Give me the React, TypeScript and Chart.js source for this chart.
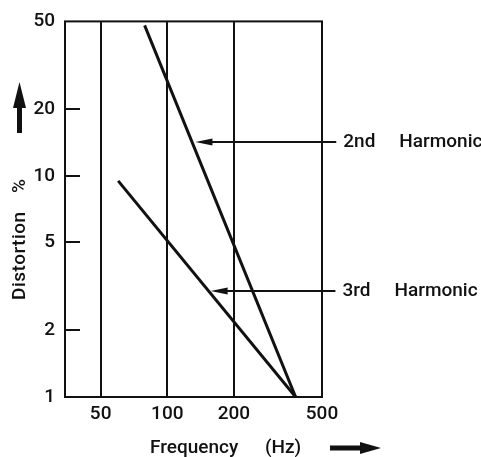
import { useEffect, useRef } from 'react';
import { Chart, registerables } from 'chart.js';

Chart.register(...registerables);

const xTicks = [50, 100, 200, 500];
const yTicks = [1, 2, 5, 10, 20, 50];
const xGridValues = [50, 100, 200];
const yInnerTicks = [2, 5, 10, 20];
const secondFreq = [79, 380];
const secondDist = [48, 1];
const thirdFreq = [60, 380];
const thirdDist = [9.5, 1];
const calloutLabels = ['2nd', '3rd'];
const calloutLevel = [14.3, 3.03];
const calloutTip = [134, 157];
const calloutTail = [580, 575];

const INK = '#111111';
const FONT = 'Roboto, "Liberation Sans", Arial, sans-serif';

const decorPlugin = {
  id: 'decor',
  beforeDatasetsDraw(chart: any) {
    const { ctx, chartArea } = chart;
    const xs = chart.scales.x;
    const ys = chart.scales.y;
    ctx.save();
    ctx.strokeStyle = INK;
    ctx.lineWidth = 2;
    xGridValues.forEach((v) => {
      const px = Math.round(xs.getPixelForValue(v));
      ctx.beginPath();
      ctx.moveTo(px, chartArea.top);
      ctx.lineTo(px, chartArea.bottom);
      ctx.stroke();
    });
    yInnerTicks.forEach((v) => {
      const py = Math.round(ys.getPixelForValue(v));
      ctx.beginPath();
      ctx.moveTo(chartArea.left, py);
      ctx.lineTo(chartArea.left + 15, py);
      ctx.stroke();
    });
    ctx.strokeRect(chartArea.left, chartArea.top, chartArea.right - chartArea.left, chartArea.bottom - chartArea.top);
    ctx.restore();
  },
  afterDraw(chart: any) {
    const { ctx } = chart;
    const xs = chart.scales.x;
    const ys = chart.scales.y;
    ctx.save();
    ctx.fillStyle = INK;
    ctx.strokeStyle = INK;
    ctx.font = `500 19px ${FONT}`;
    calloutLabels.forEach((label, i) => {
      const py = Math.round(ys.getPixelForValue(calloutLevel[i]));
      const tip = xs.getPixelForValue(calloutTip[i]);
      const tail = xs.getPixelForValue(calloutTail[i]);
      ctx.lineWidth = 2;
      ctx.beginPath();
      ctx.moveTo(tip + 10, py);
      ctx.lineTo(tail, py);
      ctx.stroke();
      ctx.beginPath();
      ctx.moveTo(tip, py);
      ctx.lineTo(tip + 17, py - 3.5);
      ctx.lineTo(tip + 17, py + 3.5);
      ctx.closePath();
      ctx.fill();
      ctx.textAlign = 'left';
      ctx.textBaseline = 'middle';
      const tx = tail + 7;
      ctx.fillText(label, tx, py);
      const w = ctx.measureText(label).width;
      ctx.fillText('Harmonic', tx + w + 24, py);
    });
    ctx.textBaseline = 'alphabetic';
    ctx.textAlign = 'left';
    ctx.fillText('Frequency', 150, 453);
    ctx.fillText('(Hz)', 265, 453);
    ctx.fillRect(330, 445.5, 32, 5);
    ctx.beginPath();
    ctx.moveTo(360, 442);
    ctx.lineTo(381, 448);
    ctx.lineTo(360, 454);
    ctx.closePath();
    ctx.fill();
    ctx.save();
    ctx.translate(25, 300);
    ctx.rotate(-Math.PI / 2);
    (ctx as any).letterSpacing = '0.5px';
    ctx.fillText('Distortion', 0, 0);
    ctx.fillText('%', 107, 0);
    ctx.restore();
    ctx.fillRect(17, 105, 5, 28);
    ctx.beginPath();
    ctx.moveTo(19.5, 82);
    ctx.lineTo(26, 108);
    ctx.lineTo(13, 108);
    ctx.closePath();
    ctx.fill();
    ctx.restore();
  },
};

export default function App() {
  const canvasRef = useRef<HTMLCanvasElement | null>(null);

  useEffect(() => {
    const canvas = canvasRef.current;
    if (!canvas) return;
    const chart = new Chart(canvas, {
      type: 'scatter',
      data: {
        datasets: [
          {
            label: '2nd Harmonic',
            data: secondFreq.map((f, i) => ({ x: f, y: secondDist[i] })),
            showLine: true,
            borderColor: INK,
            borderWidth: 3,
            pointRadius: 0,
          },
          {
            label: '3rd Harmonic',
            data: thirdFreq.map((f, i) => ({ x: f, y: thirdDist[i] })),
            showLine: true,
            borderColor: INK,
            borderWidth: 3,
            pointRadius: 0,
          },
        ],
      },
      options: {
        responsive: false,
        animation: false,
        layout: { padding: { left: 0, top: 19, right: 159, bottom: 0 } },
        plugins: { legend: { display: false }, tooltip: { enabled: false } },
        scales: {
          x: {
            type: 'logarithmic',
            min: 34.5,
            max: 500,
            afterBuildTicks: (s: any) => {
              s.ticks = xTicks.map((v) => ({ value: v }));
            },
            afterFit: (s: any) => {
              s.height = 60;
            },
            grid: { display: false, drawTicks: false },
            border: { display: false },
            ticks: {
              color: INK,
              padding: 6,
              font: { family: FONT, size: 19, weight: '500' },
              maxRotation: 0,
              autoSkip: false,
              callback: (v: any) => String(v),
            },
          },
          y: {
            type: 'logarithmic',
            min: 1,
            max: 50,
            afterBuildTicks: (s: any) => {
              s.ticks = yTicks.map((v) => ({ value: v }));
            },
            afterFit: (s: any) => {
              s.width = 65;
            },
            grid: { display: false, drawTicks: false },
            border: { display: false },
            ticks: {
              color: INK,
              padding: 10,
              font: { family: FONT, size: 19, weight: '500' },
              autoSkip: false,
              callback: (v: any) => String(v),
            },
          },
        },
      },
      plugins: [decorPlugin],
    });
    return () => chart.destroy();
  }, []);

  return (
    <div style={{ position: 'absolute', left: 0, top: 0, width: 481, height: 457, background: '#fff' }}>
      <canvas ref={canvasRef} width={481} height={457} style={{ display: 'block' }} />
    </div>
  );
}
